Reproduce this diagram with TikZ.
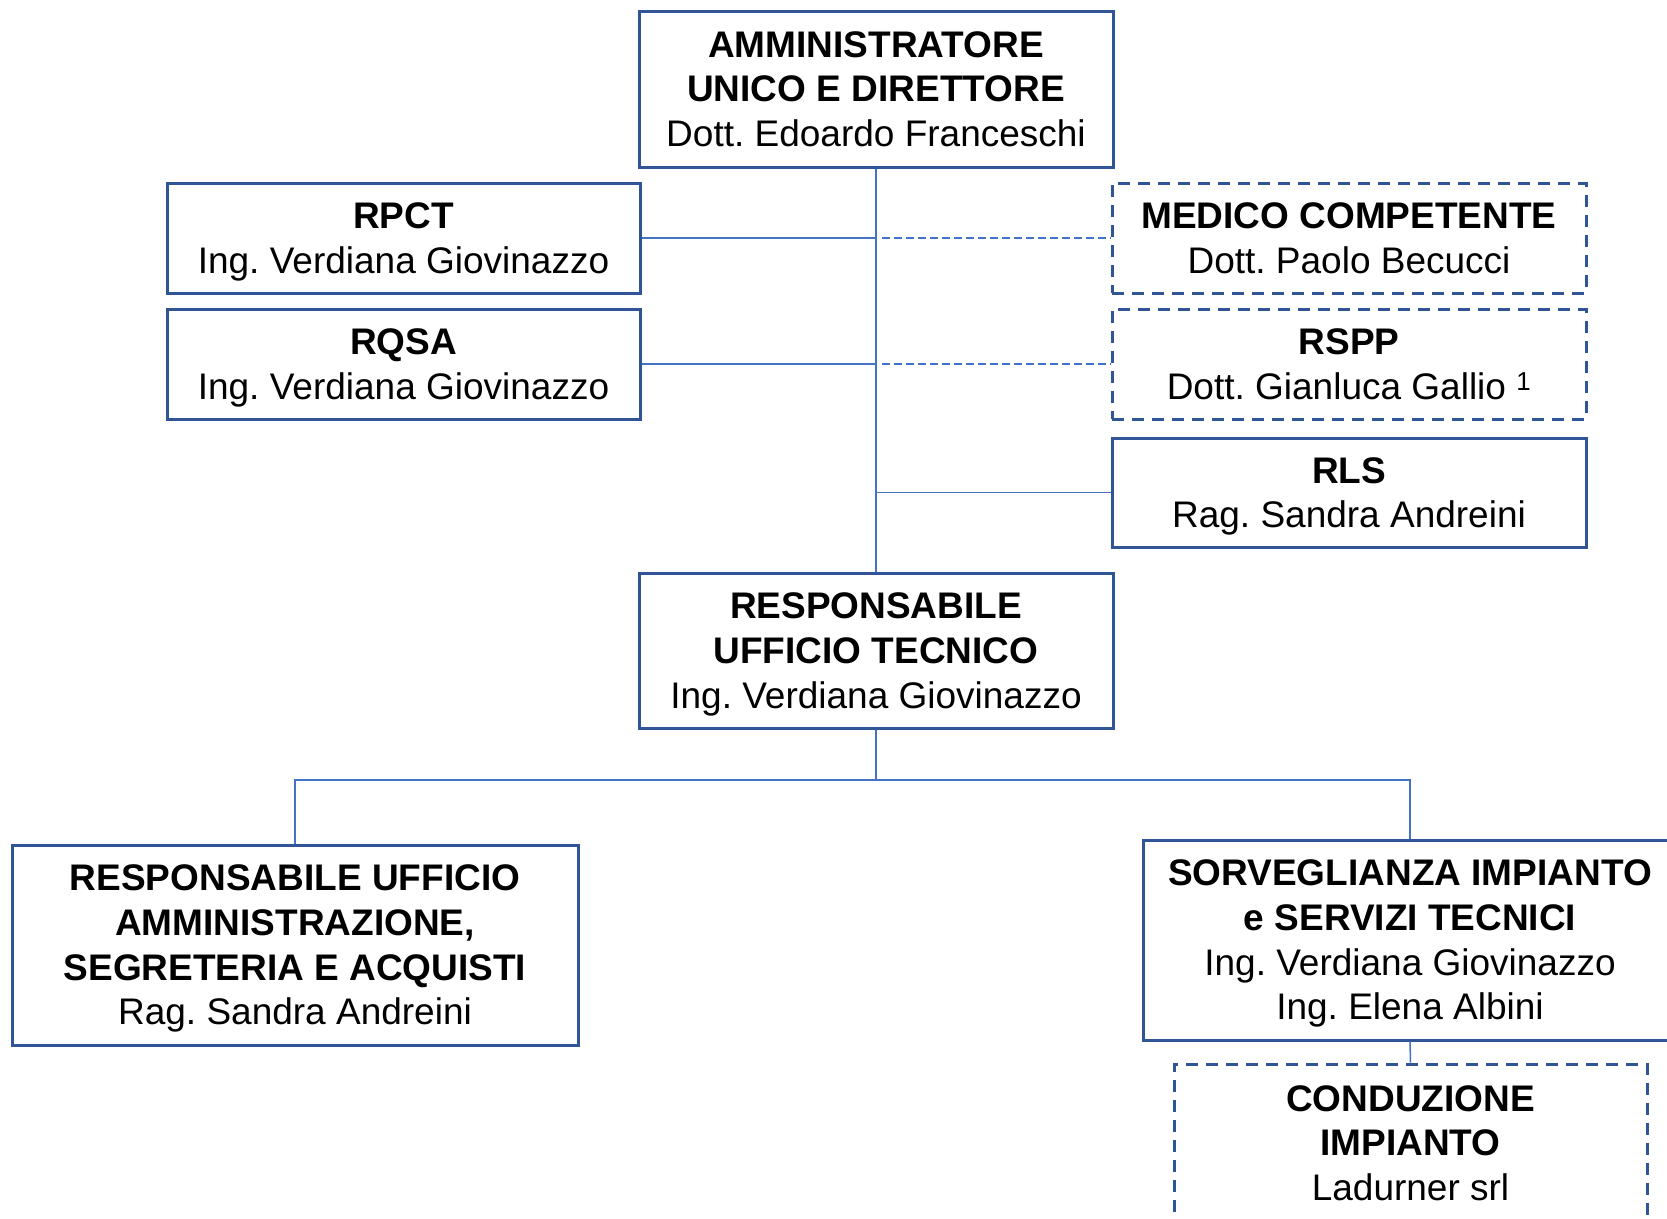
\documentclass[tikz,border=0pt]{standalone}
\usepackage{fontspec}
\setmainfont{Liberation Sans}
\frenchspacing
\definecolor{boxblue}{HTML}{2F5597}
\definecolor{lineblue}{HTML}{4472C4}
\tikzset{
  orgbox/.style={draw=boxblue, line width=3pt, fill=white, inner sep=0pt, align=center,
    font=\fontsize{37}{44.7}\selectfont},
  dorgbox/.style={orgbox, dash pattern=on 12pt off 8pt},
  conn/.style={draw=lineblue, line width=1.5pt},
  dconn/.style={conn, dash pattern=on 8pt off 4pt}
}
\begin{document}
\begin{tikzpicture}[x=1pt,y=-1pt]
\clip (0,0) rectangle (1667,1218);
\fill[white] (0,0) rectangle (1667,1218);
% nodes
\node[orgbox, minimum width=474pt, minimum height=156pt] (top) at (876,89)
  {\textbf{AMMINISTRATORE}\\\textbf{UNICO E DIRETTORE}\\\smash{Dott. Edoardo Franceschi}};
\node[orgbox, minimum width=473pt, minimum height=110pt] (rpct) at (403.5,238)
  {\textbf{RPCT}\\\smash{Ing. Verdiana Giovinazzo}};
\node[orgbox, minimum width=473pt, minimum height=110pt] (rqsa) at (403.5,364)
  {\textbf{RQSA}\\\smash{Ing. Verdiana Giovinazzo}};
\node[dorgbox, minimum width=474pt, minimum height=110pt] (med) at (1349,238)
  {\textbf{MEDICO COMPETENTE}\\\smash{Dott. Paolo Becucci}};
\node[dorgbox, minimum width=474pt, minimum height=110pt] (rspp) at (1349,364)
  {\textbf{RSPP}\\\smash{Dott. Gianluca Gallio \textsuperscript{1}}};
\node[orgbox, minimum width=474pt, minimum height=109pt] (rls) at (1349,492.5)
  {\textbf{RLS}\\\smash{Rag. Sandra Andreini}};
\node[orgbox, minimum width=474pt, minimum height=155pt] (rut) at (876,650.5)
  {\textbf{RESPONSABILE}\\\textbf{UFFICIO TECNICO}\\\smash{Ing. Verdiana Giovinazzo}};
\node[orgbox, minimum width=566pt, minimum height=200pt] (amm) at (295,945)
  {\textbf{RESPONSABILE UFFICIO}\\\textbf{AMMINISTRAZIONE,}\\\textbf{SEGRETERIA E ACQUISTI}\\\smash{Rag. Sandra Andreini}};
\node[orgbox, minimum width=534pt, minimum height=200pt] (sorv) at (1410,940)
  {\textbf{SORVEGLIANZA IMPIANTO}\\\textbf{e SERVIZI TECNICI}\\Ing. Verdiana Giovinazzo\\\smash{Ing. Elena Albini}};
\node[dorgbox, minimum width=473pt, minimum height=158pt] (cond) at (1410.5,1143)
  {\textbf{CONDUZIONE}\\\textbf{IMPIANTO}\\\smash{Ladurner srl}};
% junctions
\coordinate (j1) at (rpct.east -| top.south);
\coordinate (j2) at (rqsa.east -| top.south);
\coordinate (j3) at (rls.west -| top.south);
\coordinate (jb) at (876,780);
\coordinate (jl) at (jb -| amm.north);
\coordinate (jr) at (jb -| sorv.north);
% connectors
\draw[conn] (top.south) -- (rut.north);
\draw[conn] (rpct.east) -- (j1);
\draw[dconn] ([xshift=6pt]j1) -- (med.west);
\draw[conn] (rqsa.east) -- (j2);
\draw[dconn] ([xshift=6pt]j2) -- (rspp.west);
\draw[conn] (j3) -- (rls.west);
\draw[conn] (rut.south) -- (jb);
\draw[conn] (amm.north) -- (jl) -- (jr) -- (sorv.north);
\draw[conn] (sorv.south) -- (cond.north);
\end{tikzpicture}
\end{document}
